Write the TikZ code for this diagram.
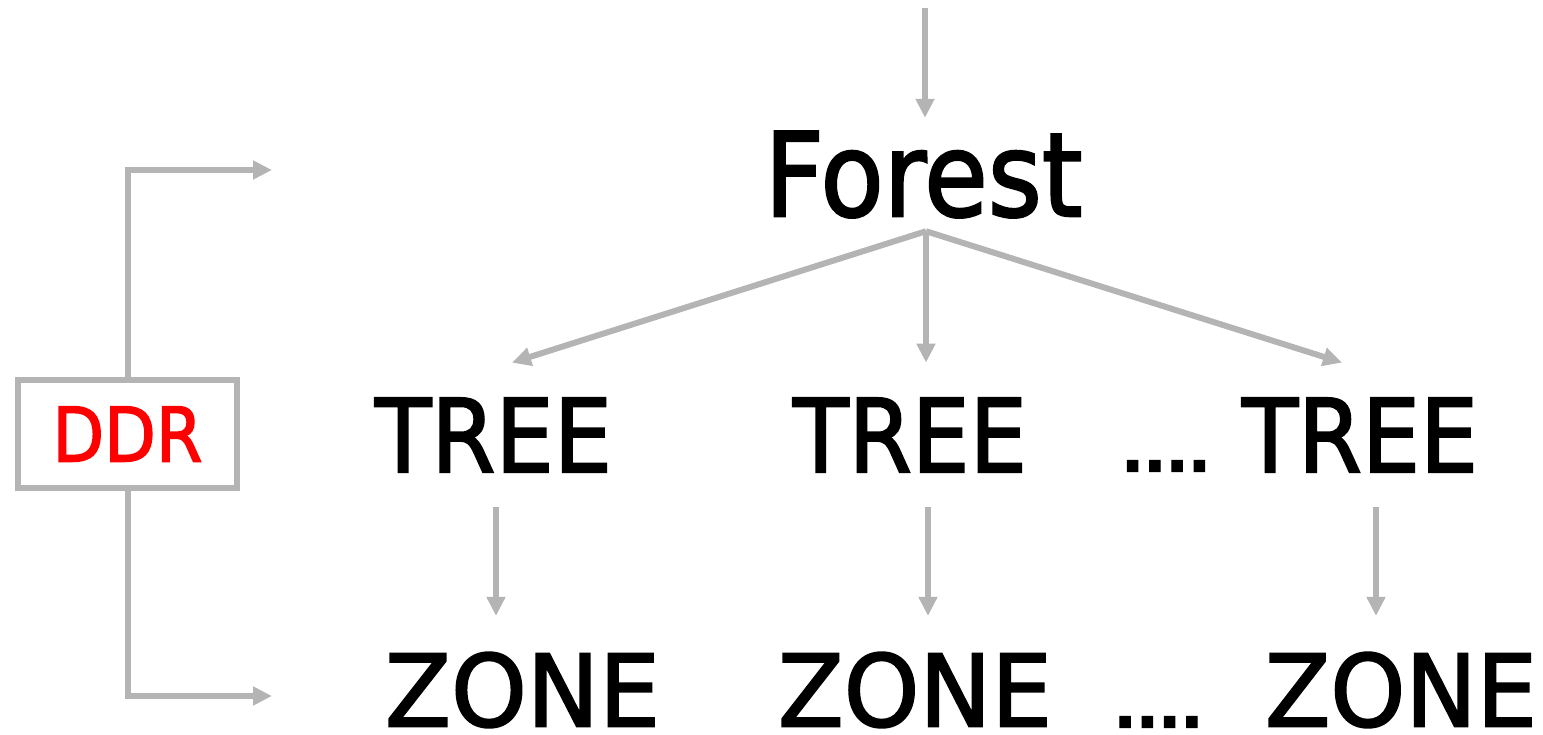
\documentclass[tikz,border=0pt]{standalone}
\usepackage{fontspec}
\usepackage{graphicx}
\setmainfont[FakeBold=2]{DejaVu Sans}
\usetikzlibrary{arrows.meta,calc}
\definecolor{wire}{RGB}{180,180,180}
\definecolor{ddrred}{RGB}{255,0,0}
\tikzset{
  arr/.style={draw=wire, line width=3pt,
    -{Triangle[length=9.5pt,width=9pt]}},
  label/.style={inner xsep=0pt, text=black, font=\fontsize{50}{60}\selectfont},
  treebox/.style={label, inner ysep=17.5pt},
  zonebox/.style={label, inner sep=0pt},
  dotsbox/.style={inner sep=0pt, font=\bfseries\fontsize{50}{60}\selectfont},
  ddrbox/.style={draw=wire, line width=3pt, fill=white, inner sep=0pt,
    minimum width=109.5pt, minimum height=54pt, text=ddrred,
    font=\fontsize{40}{48}\selectfont}
}
\begin{document}
\begin{tikzpicture}[x=0.5pt,y=-0.5pt]
  \useasboundingbox (0,0) rectangle (1543,734);

  % top level
  \coordinate (in) at (925,8);
  \node[label, inner ysep=6.5pt] (forest) at (923.5,174.5)
    {\resizebox{159pt}{42.5pt}{Forest}};

  % trees
  \node[treebox] (tree1) at (493.5,435) {\resizebox{118.5pt}{37pt}{TREE}};
  \node[treebox] (tree2) at (910,435)   {\resizebox{117pt}{37pt}{TREE}};
  \node[treebox] (tree3) at (1360,435)  {\resizebox{118pt}{37pt}{TREE}};
  \node[dotsbox] (tdots) at (1166,466)  {\resizebox{44.5pt}{!}{....}};

  % zones
  \node[zonebox] (zone1) at (522.5,690) {\resizebox{137.5pt}{37pt}{ZONE}};
  \node[zonebox] (zone2) at (915,690)   {\resizebox{137pt}{37pt}{ZONE}};
  \node[zonebox] (zone3) at (1401,690)  {\resizebox{136pt}{37pt}{ZONE}};
  \node[dotsbox] (zdots) at (1158.5,722) {\resizebox{44.5pt}{!}{....}};

  % DDR box on the left
  \node[ddrbox] (ddr) at (127.5,434) {\resizebox{75pt}{27.5pt}{DDR}};
  \coordinate (ddrup) at (272,170);
  \coordinate (ddrdown) at (272,696);

  % connectors
  \draw[arr] (in) -- ($(forest.north)+(1.5,0)$);
  \draw[arr] ($(forest.south)+(2.5,0)$) -- ($(tree1.north)+(18.5,0)$);
  \draw[arr] ($(forest.south)+(2.5,0)$) -- ($(tree2.north)+(16,0)$);
  \draw[arr] ($(forest.south)+(2.5,0)$) -- ($(tree3.north)+(-18,0)$);

  \draw[arr] ($(tree1.south)+(2.5,0)$) -- ($(zone1.north)+(-26.5,-36)$);
  \draw[arr] ($(tree2.south)+(18,0)$) -- ($(zone2.north)+(13,-36)$);
  \draw[arr] ($(tree3.south)+(16,0)$) -- ($(zone3.north)+(-25,-36)$);

  \draw[arr] (ddr.north) |- (ddrup);
  \draw[arr] (ddr.south) |- (ddrdown);
\end{tikzpicture}
\end{document}
